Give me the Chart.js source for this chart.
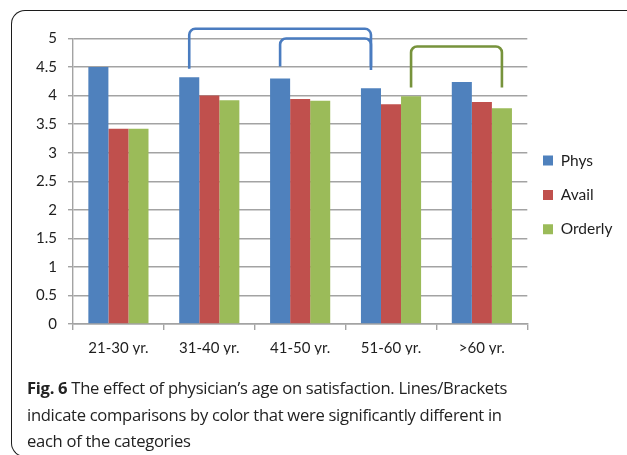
<!DOCTYPE html>
<html>
<head>
<meta charset="utf-8">
<script src="https://cdn.jsdelivr.net/npm/chart.js@4.4.1/dist/chart.umd.min.js"></script>
<style>
  html, body { margin: 0; padding: 0; background: #fff; }
  body { width: 627px; height: 455px; position: relative; overflow: hidden; }
  #frame {
    position: absolute; left: 11px; top: 10px; width: 660px; height: 445px;
    border-left: 1.6px solid #1c1c1c; border-top: 1.6px solid #1c1c1c;
    border-bottom: 1.6px solid #1c1c1c;
    border-radius: 14px 0 0 14px;
  }
  #chart { position: absolute; left: 0; top: 0; }
  #caption {
    position: absolute; left: 27px; top: 375px; width: 500px;
    font-family: "Open Sans", "Noto Sans", sans-serif; font-size: 16.6px;
    letter-spacing: -0.3px;
    line-height: 26.5px; color: #222;
  }
  #caption b { font-weight: 700; }
</style>
</head>
<body>
<div id="frame"></div>
<canvas id="chart" width="627" height="390"></canvas>
<div id="caption"><b>Fig. 6</b> The effect of physician’s age on satisfaction. Lines/Brackets indicate comparisons by color that were significantly different in each of the categories</div>
<script>
// Age groups and mean satisfaction scores per measure
const categories = ['21-30 yr.', '31-40 yr.', '41-50 yr.', '51-60 yr.', '>60 yr.'];
const seriesNames = ['Phys', 'Avail', 'Orderly'];
const phys    = [4.50, 4.32, 4.30, 4.13, 4.24];
const avail   = [3.42, 4.00, 3.94, 3.85, 3.89];
const orderly = [3.42, 3.92, 3.91, 3.99, 3.78];
const yTicks  = [0, 0.5, 1, 1.5, 2, 2.5, 3, 3.5, 4, 4.5, 5];

// Significance brackets: which series, between which age groups,
// and the score levels of each foot and of the top bar
const bracketSeries    = [0, 0, 2];
const bracketFrom      = [1, 2, 3];
const bracketTo        = [3, 3, 4];
const bracketFootLeft  = [4.47, 4.51, 4.14];
const bracketFootRight = [4.45, 4.51, 4.14];
const bracketTop       = [5.17, 5.00, 4.86];

const barColors = ['#4f81bd', '#c0504d', '#9bbb59'];
const bracketColors = ['#4a7cc0', '#4a7cc0', '#77933c'];
const gridColor = '#a3a3a3';
const textColor = '#1e1e1e';

const bracketPlugin = {
  id: 'significanceBrackets',
  afterDraw(chart) {
    const ctx = chart.ctx;
    const y = chart.scales.y;
    const r = 6;
    ctx.save();
    ctx.lineWidth = 2.6;
    ctx.lineJoin = 'round';
    ctx.lineCap = 'butt';
    bracketSeries.forEach((s, i) => {
      const bars = chart.getDatasetMeta(s).data;
      const x1 = bars[bracketFrom[i]].x;
      const x2 = bars[bracketTo[i]].x;
      const yl = y.getPixelForValue(bracketFootLeft[i]);
      const yr = y.getPixelForValue(bracketFootRight[i]);
      const yt = y.getPixelForValue(bracketTop[i]);
      ctx.strokeStyle = bracketColors[i];
      ctx.beginPath();
      ctx.moveTo(x1, yl);
      ctx.lineTo(x1, yt + r);
      ctx.arcTo(x1, yt, x1 + r, yt, r);
      ctx.lineTo(x2 - r, yt);
      ctx.arcTo(x2, yt, x2, yt + r, r);
      ctx.lineTo(x2, yr);
      ctx.stroke();
    });
    ctx.restore();
  }
};

const datasets = [phys, avail, orderly].map((values, i) => ({
  label: [seriesNames[i]],
  data: values,
  backgroundColor: barColors[i],
  borderWidth: 0,
  categoryPercentage: 0.662,
  barPercentage: 1.0
}));

new Chart(document.getElementById('chart'), {
  type: 'bar',
  data: { labels: categories, datasets },
  options: {
    responsive: false,
    animation: false,
    devicePixelRatio: 1,
    layout: { padding: { top: 38.5, left: 0, right: 4.5, bottom: 35.6 } },
    plugins: {
      tooltip: { enabled: false },
      legend: {
        position: 'right',
        align: 'center',
        labels: {
          boxWidth: 10,
          boxHeight: 10,
          padding: 15.7,
          color: textColor,
          font: { family: 'Lato', size: 15.5, lineHeight: 1.2 }
        }
      }
    },
    scales: {
      x: {
        afterFit(scale) { scale.height = 30.4; },
        grid: {
          offset: true,
          drawOnChartArea: false,
          drawTicks: true,
          tickLength: 6,
          color: gridColor,
          lineWidth: 1.4
        },
        border: { color: gridColor, width: 1.4 },
        ticks: {
          color: textColor,
          padding: 9,
          maxRotation: 0,
          font: { family: 'Lato', size: 15 }
        }
      },
      y: {
        min: 0,
        max: 5,
        afterFit(scale) { scale.width = 73; },
        afterBuildTicks(scale) { scale.ticks = yTicks.map(v => ({ value: v })); },
        grid: {
          color: gridColor,
          lineWidth: 1.4,
          tickLength: 5
        },
        border: { color: gridColor, width: 1.4 },
        ticks: {
          color: textColor,
          padding: 11,
          font: { family: 'Lato', size: 15 },
          callback: v => String(v)
        }
      }
    }
  },
  plugins: [bracketPlugin]
});
</script>
</body>
</html>
